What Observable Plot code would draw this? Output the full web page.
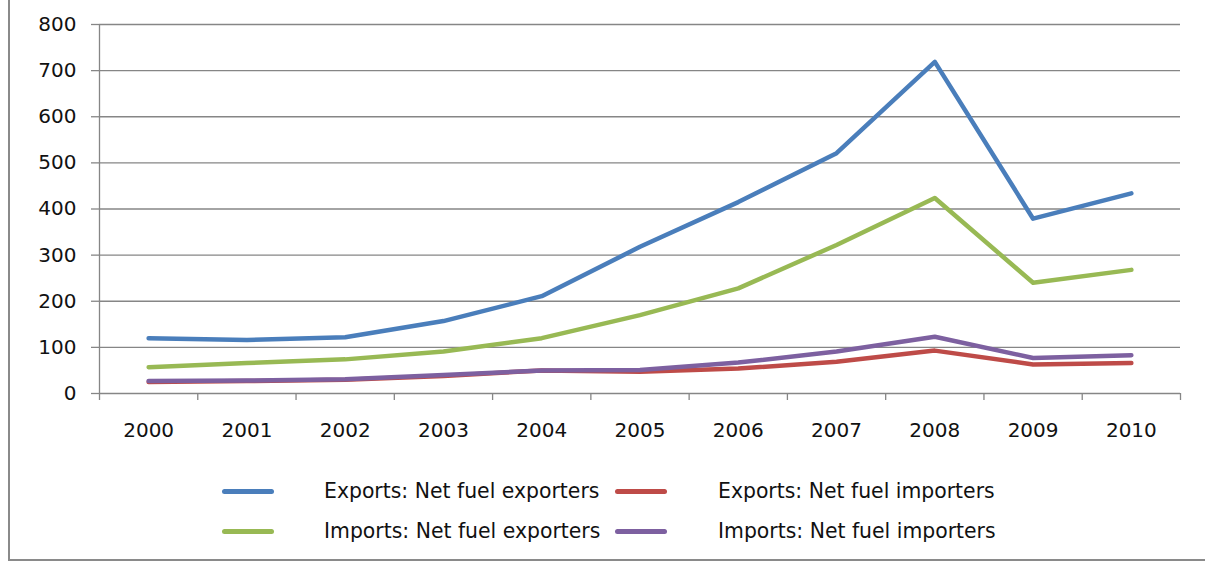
<!DOCTYPE html>
<html>
<head>
<meta charset="utf-8">
<script src="https://cdn.jsdelivr.net/npm/d3@7"></script>
<script src="https://cdn.jsdelivr.net/npm/@observablehq/plot@0.6"></script>
<style>
  html, body { margin: 0; padding: 0; background: #fff; }
  #wrap { position: relative; width: 1205px; height: 567px; overflow: hidden; font-family: "DejaVu Sans", sans-serif; }
  #border { position: absolute; left: 8px; top: -4px; width: 1200px; height: 565px; border-left: 2px solid #8a8a8a; border-bottom: 2px solid #8a8a8a; box-sizing: border-box; pointer-events: none; }
  #chart svg { display: block; }
  #legend { display: grid; grid-template-columns: 102px 291px 103px 300px; grid-auto-rows: 40px; margin-left: 222px; margin-top: 11px; font-size: 20.4px; color: #111; }
  #legend .sw { display: flex; align-items: center; }
  #legend .sw span { display: block; width: 52px; height: 5px; border-radius: 3px; }
  #legend .tx { display: flex; align-items: center; white-space: nowrap; }
</style>
</head>
<body>
<div id="wrap">
  <div id="chart"></div>
  <div id="legend"></div>
  <div id="border"></div>
</div>
<script>
const years = [2000, 2001, 2002, 2003, 2004, 2005, 2006, 2007, 2008, 2009, 2010];
const seriesNames = [
  "Exports: Net fuel exporters",
  "Exports: Net fuel importers",
  "Imports: Net fuel exporters",
  "Imports: Net fuel importers"
];
const seriesColors = ["#4a7ebb", "#be4b48", "#98b954", "#7d60a0"];
const exportsNetFuelExporters = [120, 116, 122, 157, 211, 318, 415, 521, 719, 379, 434];
const exportsNetFuelImporters = [25, 27, 30, 38, 50, 47, 54, 69, 93, 63, 66];
const importsNetFuelExporters = [57, 66, 74, 91, 120, 170, 228, 322, 424, 240, 268];
const importsNetFuelImporters = [27, 28, 31, 40, 50, 51, 67, 91, 123, 77, 83];
const yTicks = [0, 100, 200, 300, 400, 500, 600, 700, 800];

const seriesValues = [exportsNetFuelExporters, exportsNetFuelImporters, importsNetFuelExporters, importsNetFuelImporters];
const data = seriesNames.flatMap((name, s) => years.map((year, i) => ({year, value: seriesValues[s][i], series: name})));
const boundaries = [...years.map(y => y - 0.5), years[years.length - 1] + 0.5];
const gray = "#868686";

const chart = Plot.plot({
  width: 1205,
  height: 460,
  marginLeft: 99,
  marginRight: 25,
  marginTop: 24,
  marginBottom: 67,
  style: {fontFamily: "DejaVu Sans, sans-serif", fontSize: "20px", color: "#111", background: "transparent"},
  x: {domain: [boundaries[0], boundaries[boundaries.length - 1]]},
  y: {domain: [0, 800]},
  color: {domain: seriesNames, range: seriesColors},
  marks: [
    Plot.gridY(yTicks, {stroke: gray, strokeOpacity: 1, strokeWidth: 1.3}),
    Plot.axisY(yTicks, {tickSize: 8, tickPadding: 15, stroke: gray, strokeOpacity: 1, strokeWidth: 1.3, label: null, fill: "#111"}),
    Plot.axisX(boundaries, {tickSize: 7, tickFormat: () => "", stroke: gray, strokeOpacity: 1, strokeWidth: 1.3, label: null}),
    Plot.axisX(years, {tickSize: 0, tickPadding: 29, tickFormat: d => String(d), label: null, fill: "#111"}),
    Plot.ruleX([boundaries[0]], {stroke: gray, strokeWidth: 1.3}),
    Plot.line(data, {x: "year", y: "value", z: "series", stroke: "series", strokeWidth: 4.5, strokeLinecap: "round", strokeLinejoin: "round"})
  ]
});
document.getElementById("chart").appendChild(chart);

const legend = document.getElementById("legend");
const order = [0, 1, 2, 3];
order.forEach(i => {
  const sw = document.createElement("div");
  sw.className = "sw";
  const bar = document.createElement("span");
  bar.style.background = seriesColors[i];
  sw.appendChild(bar);
  const tx = document.createElement("div");
  tx.className = "tx";
  tx.textContent = seriesNames[i];
  legend.appendChild(sw);
  legend.appendChild(tx);
});
</script>
</body>
</html>
